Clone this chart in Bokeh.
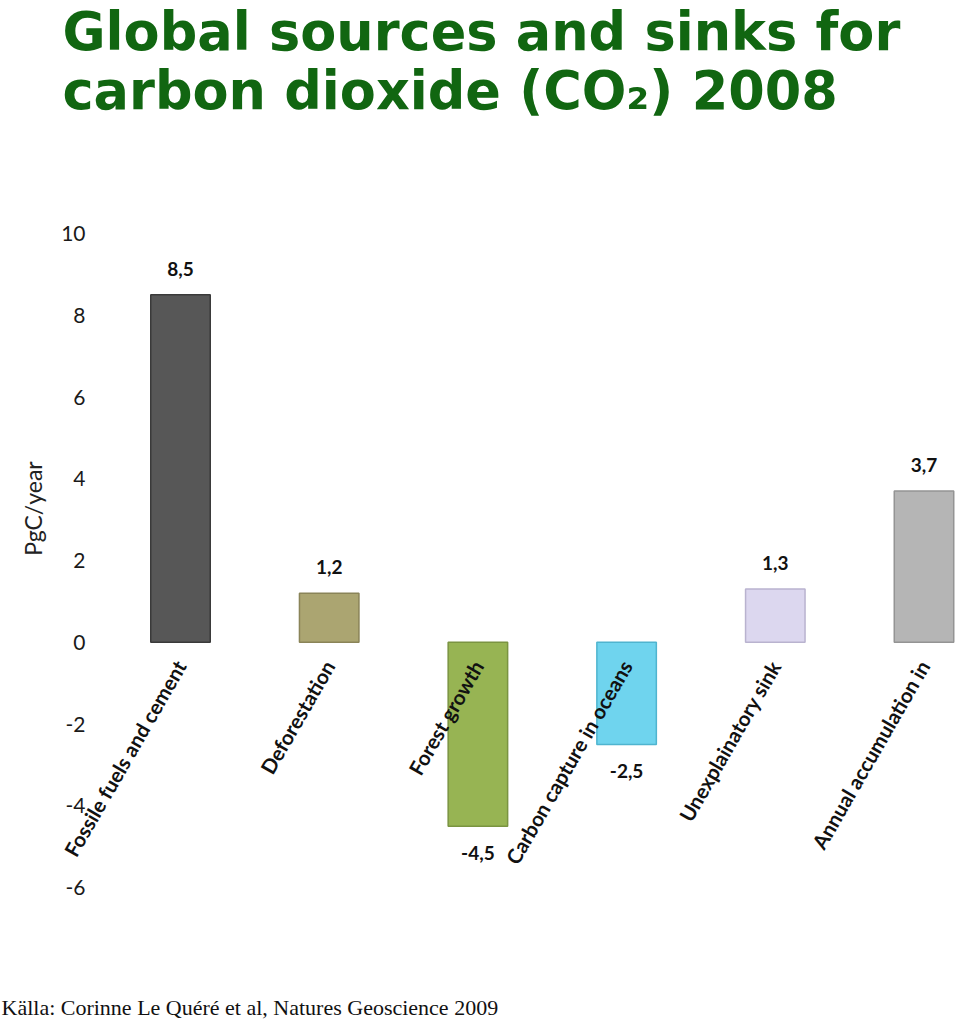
from bokeh.plotting import figure
from bokeh.models import Range1d, Label, ColumnDataSource, FixedTicker
from bokeh.core.properties import value
from bokeh.embed import file_html
from bokeh.resources import INLINE
import math

# ---- data ----
categories = ["Fossile fuels and cement", "Deforestation", "Forest growth",
              "Carbon capture in oceans", "Unexplainatory sink", "Annual accumulation in"]
values = [8.5, 1.2, -4.5, -2.5, 1.3, 3.7]
value_labels = ["8,5", "1,2", "-4,5", "-2,5", "1,3", "3,7"]
bar_colors = ["#575757", "#aba571", "#97b453", "#6fd4ee", "#dcd7ef", "#b5b5b5"]
edge_colors = ["#3a3a3a", "#8a8458", "#7a9441", "#4fb4cf", "#b9b3cf", "#949494"]
y_ticks = [-6, -4, -2, 0, 2, 4, 6, 8, 10]
y_tick_labels = ["-6", "-4", "-2", "0", "2", "4", "6", "8", "10"]
title_line1 = "Global sources and sinks for"
title_line2 = "carbon dioxide (CO\u2082) 2008"
y_title = "PgC/year"
footer = "K\u00e4lla: Corinne Le Qu\u00e9r\u00e9 et al, Natures Geoscience 2009"

# ---- layout (canvas pixels -> data) ----
W, H = 960, 1023
X0PX, XSTEP = 180.0, 148.7      # pixel of category 0, pixels per category
Y0PX, YSTEP = 641.75, 40.875    # pixel of value 0, pixels per unit

def dx(px):
    return (px - X0PX) / XSTEP

def dy(py):
    return (Y0PX - py) / YSTEP

p = figure(width=W, height=H, output_backend="svg", toolbar_location=None,
           x_range=Range1d(dx(0), dx(W)), y_range=Range1d(dy(H), dy(0)),
           min_border=0)
p.title.visible = False
p.outline_line_color = None
p.grid.visible = False
p.background_fill_color = "white"
p.border_fill_color = "white"

# y axis placed inside the canvas at the chart's left edge
ya = p.yaxis[0]
ya.fixed_location = dx(105)
ya.ticker = FixedTicker(ticks=y_ticks)
ya.major_label_overrides = {t: s for t, s in zip(y_ticks, y_tick_labels)}
ya.axis_line_color = None
ya.major_tick_line_color = None
ya.minor_tick_line_color = None
ya.major_label_standoff = 14
ya.major_label_text_font = "Lato"
ya.major_label_text_font_size = "21px"
ya.major_label_text_color = "#1a1a1a"

# x axis at value 0 carrying the category names
xa = p.xaxis[0]
xa.fixed_location = 0
idx = list(range(len(categories)))
xa.ticker = FixedTicker(ticks=idx)
xa.major_label_overrides = {i: c for i, c in zip(idx, categories)}
xa.major_label_orientation = math.pi / 3
xa.axis_line_color = None
xa.major_tick_line_color = None
xa.minor_tick_line_color = None
xa.major_label_standoff = 14
xa.major_label_text_font = "Lato"
xa.major_label_text_font_style = "bold"
xa.major_label_text_font_size = "20.5px"
xa.major_label_text_color = "#111111"

src = ColumnDataSource(dict(x=idx, top=values, color=bar_colors, edge=edge_colors))
p.vbar(x="x", top="top", bottom=0, width=0.40, source=src,
       fill_color="color", line_color="edge", line_width=1.5)

# value labels
pos = [i for i, v in enumerate(values) if v >= 0]
neg = [i for i, v in enumerate(values) if v < 0]
for group, off in ((pos, -26), (neg, 27)):
    p.text(x=[idx[i] for i in group], y=[values[i] for i in group],
           text=[value_labels[i] for i in group], y_offset=off,
           text_align="center", text_baseline="middle",
           text_font=value("Lato"), text_font_style="bold",
           text_font_size="19px", text_color="#111111")

# y-axis title
p.add_layout(Label(x=dx(32), y=dy(508), text=y_title, angle=math.pi / 2,
                   text_align="center", text_baseline="middle",
                   text_font="Lato", text_font_size="23px", text_color="#222222"))

# title (two lines)
for txt, base in ((title_line1, 31), (title_line2, 90)):
    p.add_layout(Label(x=dx(62), y=dy(base), text=txt,
                       text_align="left", text_baseline="alphabetic",
                       text_font="DejaVu Sans", text_font_style="bold",
                       text_font_size="52.5px", text_color="#116611"))

# footer
p.add_layout(Label(x=dx(1), y=dy(1007), text=footer,
                   text_align="left", text_baseline="alphabetic",
                   text_font="Liberation Serif", text_font_size="22px",
                   text_color="#111111"))

open("out.html", "w").write(file_html(p, INLINE))
